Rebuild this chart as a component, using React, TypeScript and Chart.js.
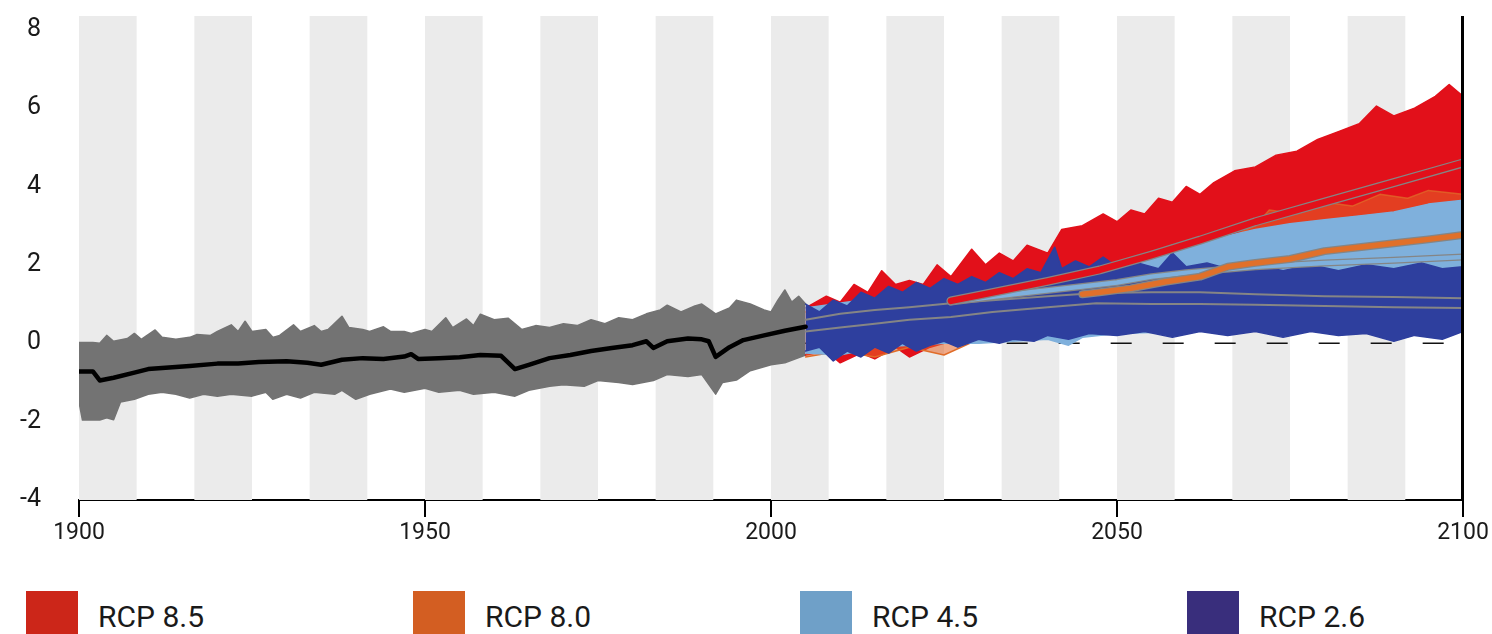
import React, { useEffect, useRef } from "react";
import { Chart, registerables } from "chart.js";

Chart.register(...registerables);

// ---------- axes / decoration ----------
const xTicks = [1900, 1950, 2000, 2050, 2100];
const yTicks = [-4, -2, 0, 2, 4, 6, 8];
const stripeStarts = [1900, 1916.67, 1933.33, 1950, 1966.67, 1983.33, 2000, 2016.67, 2033.33, 2050, 2066.67, 2083.33];
const stripeWidth = 8.33;

// ---------- legend ----------
const legendLabels = ["RCP 8.5", "RCP 8.0", "RCP 4.5", "RCP 2.6"];
const legendColors = ["#cc2619", "#d35e22", "#6fa0c8", "#392e7c"];

// ---------- zero reference ----------
const zeroYears = [2004, 2100];
const zeroValues = [0, 0];

// ---------- historical ensemble (gray) ----------
const histUpperYears = [1900, 1902, 1903, 1904, 1905, 1907, 1908, 1909, 1911, 1912, 1914, 1916, 1917, 1919, 1920, 1922, 1923, 1924, 1925, 1927, 1928, 1929, 1931, 1932, 1934, 1935, 1936, 1938, 1939, 1941, 1942, 1944, 1945, 1947, 1948, 1950, 1951, 1953, 1954, 1956, 1957, 1958, 1960, 1962, 1964, 1966, 1968, 1970, 1972, 1974, 1976, 1978, 1980, 1982, 1984, 1985, 1987, 1989, 1990, 1992, 1994, 1995, 1997, 1999, 2000, 2001, 2002, 2003, 2004, 2005];
const histUpperValues = [0.02, 0.02, 0.0, 0.2, 0.05, 0.12, 0.25, 0.1, 0.34, 0.15, 0.1, 0.15, 0.22, 0.2, 0.3, 0.47, 0.3, 0.56, 0.3, 0.35, 0.15, 0.2, 0.47, 0.3, 0.45, 0.3, 0.35, 0.69, 0.4, 0.35, 0.3, 0.42, 0.3, 0.3, 0.25, 0.35, 0.3, 0.65, 0.4, 0.62, 0.45, 0.74, 0.6, 0.64, 0.35, 0.45, 0.4, 0.5, 0.45, 0.6, 0.5, 0.65, 0.6, 0.75, 0.85, 0.97, 0.8, 0.95, 1.0, 0.75, 0.9, 1.1, 1.0, 0.85, 0.8, 1.1, 1.36, 1.05, 1.2, 1.0];
const histLowerYears = [1900, 1900.5, 1903, 1904, 1905, 1906, 1908, 1910, 1912, 1914, 1916, 1918, 1920, 1922, 1925, 1927, 1928, 1930, 1932, 1934, 1937, 1938, 1940, 1942, 1945, 1947, 1950, 1952, 1955, 1957, 1960, 1963, 1965, 1968, 1970, 1973, 1975, 1978, 1980, 1983, 1985, 1988, 1990, 1992, 1993, 1995, 1997, 2000, 2002, 2005];
const histLowerValues = [-1.5, -1.96, -1.96, -1.9, -1.95, -1.5, -1.43, -1.3, -1.25, -1.3, -1.4, -1.3, -1.35, -1.3, -1.35, -1.25, -1.43, -1.3, -1.4, -1.25, -1.3, -1.2, -1.43, -1.3, -1.17, -1.25, -1.15, -1.25, -1.2, -1.3, -1.25, -1.35, -1.2, -1.1, -1.06, -1.1, -0.95, -1.0, -1.05, -0.95, -0.8, -0.85, -0.8, -1.3, -1.0, -0.94, -0.7, -0.55, -0.5, -0.3];
const histMeanYears = [1900, 1902, 1903, 1905, 1908, 1910, 1913, 1916, 1920, 1923, 1926, 1930, 1933, 1935, 1938, 1941, 1944, 1947, 1948, 1949, 1952, 1955, 1958, 1961, 1963, 1965, 1968, 1971, 1974, 1977, 1980, 1982, 1983, 1985, 1988, 1990, 1991, 1992, 1994, 1996, 1999, 2002, 2005];
const histMeanValues = [-0.72, -0.72, -0.95, -0.88, -0.75, -0.66, -0.62, -0.58, -0.52, -0.52, -0.48, -0.46, -0.5, -0.55, -0.42, -0.38, -0.4, -0.34, -0.28, -0.4, -0.38, -0.36, -0.3, -0.32, -0.66, -0.55, -0.38, -0.3, -0.2, -0.12, -0.05, 0.05, -0.12, 0.05, 0.12, 0.1, 0.05, -0.35, -0.1, 0.08, 0.2, 0.32, 0.42];

// ---------- RCP 8.5 ensemble (red) ----------
const redUpperYears = [2005, 2008, 2010, 2012, 2014, 2016, 2018, 2020, 2022, 2024, 2026, 2029, 2031, 2033, 2035, 2037, 2040, 2042, 2045, 2048, 2050, 2052, 2054, 2056, 2058, 2060, 2062, 2064, 2067, 2070, 2073, 2076, 2079, 2082, 2085, 2087.5, 2090, 2093, 2096, 2098, 2100];
const redUpperValues = [0.9, 1.2, 1.05, 1.5, 1.3, 1.85, 1.5, 1.6, 1.5, 2.0, 1.7, 2.4, 2.0, 2.3, 2.1, 2.5, 2.3, 2.9, 3.0, 3.3, 3.1, 3.4, 3.3, 3.7, 3.6, 4.0, 3.8, 4.1, 4.4, 4.5, 4.8, 4.9, 5.2, 5.4, 5.6, 6.05, 5.8, 6.0, 6.3, 6.6, 6.3];
const redLowerYears = [2005, 2008, 2010, 2013, 2015, 2018, 2020, 2023, 2025, 2030, 2040, 2050, 2060, 2070, 2080, 2090, 2100];
const redLowerValues = [-0.3, -0.2, -0.5, -0.25, -0.4, -0.1, -0.35, -0.1, 0.0, 0.3, 0.8, 1.3, 1.8, 2.3, 2.8, 3.2, 3.5];
const redMeanYears = [2026, 2030, 2035, 2040, 2047.5, 2055, 2062, 2070, 2080, 2090, 2100];
const redMeanValues = [1.08, 1.22, 1.4, 1.58, 1.87, 2.25, 2.63, 3.1, 3.6, 4.1, 4.6];

// ---------- RCP 8.0 ensemble (orange) ----------
const orangeUpperYears = [2005, 2015, 2025, 2035, 2045, 2055, 2065, 2070, 2072, 2076, 2080, 2084, 2088, 2092, 2095, 2100];
const orangeUpperValues = [0.8, 1.0, 1.2, 1.4, 1.6, 2.0, 2.6, 3.0, 3.4, 3.3, 3.6, 3.5, 3.8, 3.7, 3.9, 3.8];
const orangeLowerYears = [2005, 2010, 2015, 2020, 2025, 2030, 2040, 2060, 2100];
const orangeLowerValues = [-0.35, -0.2, -0.35, -0.1, -0.3, 0.1, 0.4, 0.8, 1.2];
const orangeMeanYears = [2045, 2047.5, 2052, 2057, 2062, 2066, 2070, 2075, 2080, 2085, 2090, 2095, 2100];
const orangeMeanValues = [1.25, 1.3, 1.4, 1.57, 1.7, 1.95, 2.05, 2.15, 2.35, 2.45, 2.55, 2.65, 2.76];

// ---------- RCP 4.5 ensemble (light blue) ----------
const lightUpperYears = [2005, 2015, 2025, 2030, 2035, 2040, 2045, 2050, 2055, 2058, 2060, 2065, 2070, 2075, 2080, 2085, 2090, 2095, 2100];
const lightUpperValues = [0.9, 1.15, 1.35, 1.45, 1.55, 1.65, 1.75, 1.95, 2.2, 2.5, 2.45, 2.7, 2.9, 3.05, 3.15, 3.25, 3.35, 3.55, 3.65];
const lightLowerYears = [2005, 2010, 2015, 2020, 2025, 2030, 2035, 2040, 2043, 2045, 2050, 2060, 2100];
const lightLowerValues = [-0.25, -0.3, -0.1, -0.05, 0.0, 0.0, 0.05, 0.1, -0.05, 0.15, 0.25, 0.3, 0.4];
const lightMeanYears = [2026, 2035, 2045, 2050, 2055, 2060, 2070, 2080, 2090, 2100];
const lightMeanValues = [1.05, 1.25, 1.45, 1.55, 1.7, 1.8, 1.95, 2.05, 2.12, 2.2];

// ---------- RCP 2.6 ensemble (dark blue) ----------
const darkUpperYears = [2005, 2007, 2009, 2011, 2013, 2015, 2017, 2019, 2021, 2023, 2025, 2027, 2029, 2031, 2033, 2035, 2037, 2039, 2041, 2042, 2044, 2046, 2048, 2050, 2053, 2056, 2058, 2060, 2063, 2066, 2070, 2074, 2078, 2082, 2086, 2090, 2094, 2097, 2100];
const darkUpperValues = [1.0, 0.8, 1.1, 0.95, 1.3, 1.15, 1.45, 1.3, 1.55, 1.4, 1.65, 1.5, 1.7, 1.55, 1.8, 1.65, 1.9, 1.8, 2.45, 1.9, 2.1, 1.95, 2.2, 1.95, 2.05, 1.9, 2.3, 1.95, 2.05, 1.9, 2.0, 1.85, 2.0, 1.85, 2.0, 1.9, 2.05, 1.9, 1.95];
const darkLowerYears = [2005, 2007, 2009, 2011, 2013, 2015, 2017, 2019, 2021, 2023, 2025, 2027, 2030, 2033, 2035, 2038, 2040, 2043, 2046, 2050, 2054, 2058, 2062, 2066, 2070, 2074, 2078, 2082, 2086, 2090, 2093, 2097, 2100];
const darkLowerValues = [-0.2, -0.1, -0.45, -0.2, -0.35, -0.1, -0.25, 0.0, -0.2, -0.05, 0.05, -0.1, 0.1, 0.0, 0.1, 0.05, 0.2, 0.1, 0.25, 0.2, 0.3, 0.15, 0.3, 0.2, 0.3, 0.15, 0.3, 0.2, 0.25, 0.05, 0.2, 0.1, 0.3];
const meanAYears = [2005, 2010, 2015, 2020, 2026, 2032, 2040, 2047, 2055, 2062, 2070, 2080, 2090, 2100];
const meanAValues = [0.6, 0.75, 0.85, 0.92, 1.02, 1.1, 1.2, 1.28, 1.3, 1.3, 1.25, 1.2, 1.18, 1.15];
const meanBYears = [2005, 2010, 2015, 2020, 2026, 2032, 2040, 2047, 2055, 2062, 2070, 2080, 2090, 2100];
const meanBValues = [0.3, 0.4, 0.5, 0.6, 0.67, 0.8, 0.92, 1.02, 1.0, 1.0, 0.98, 0.95, 0.92, 0.9];

const pts = (xs: number[], ys: number[]) => xs.map((x, i) => ({ x, y: ys[i] }));

function line(data: any, color: string, width: number, order: number, extra: any = {}) {
  return {
    data,
    borderColor: color,
    borderWidth: width,
    pointRadius: 0,
    tension: 0,
    fill: false,
    borderJoinStyle: "round",
    borderCapStyle: "round",
    order,
    ...extra,
  };
}

const stripePlugin = {
  id: "stripes",
  beforeDatasetsDraw(chart: any) {
    const { ctx, chartArea, scales } = chart;
    ctx.save();
    ctx.fillStyle = "#ebebeb";
    stripeStarts.forEach((s) => {
      const x0 = scales.x.getPixelForValue(s);
      const x1 = scales.x.getPixelForValue(s + stripeWidth);
      ctx.fillRect(x0, chartArea.top, x1 - x0, chartArea.bottom - chartArea.top);
    });
    ctx.restore();
  },
};

const rightAxisPlugin = {
  id: "rightAxis",
  afterDatasetsDraw(chart: any) {
    const { ctx, chartArea } = chart;
    ctx.save();
    ctx.strokeStyle = "#000";
    ctx.lineWidth = 3;
    ctx.beginPath();
    ctx.moveTo(chartArea.right - 0.5, chartArea.top);
    ctx.lineTo(chartArea.right - 0.5, chartArea.bottom);
    ctx.stroke();
    ctx.restore();
  },
};

export default function App() {
  const ref = useRef<HTMLCanvasElement>(null);

  useEffect(() => {
    if (!ref.current) return;
    const gray = "#737373";
    const red = "#e2101a";
    const orange = "#e0702a";
    const light = "#7fb0dc";
    const dark = "#2e3f9e";
    const chart = new Chart(ref.current, {
      type: "line",
      data: {
        datasets: [
          line(pts(zeroYears, zeroValues), "#111", 1.6, 100, { borderDash: [21, 31], borderCapStyle: "butt" }),
          line(pts(histLowerYears, histLowerValues), gray, 1.5, 91),
          line(pts(histUpperYears, histUpperValues), gray, 1.5, 90, { fill: "-1", backgroundColor: gray }),
          line(pts(redLowerYears, redLowerValues), red, 1.5, 81),
          line(pts(redUpperYears, redUpperValues), red, 1.5, 80, { fill: "-1", backgroundColor: red }),
          line(pts(orangeLowerYears, orangeLowerValues), orange, 1.5, 71),
          line(pts(orangeUpperYears, orangeUpperValues), "rgba(224,112,42,0.7)", 1.5, 70, { fill: "-1", backgroundColor: "rgba(228,100,40,0.55)" }),
          line(pts(lightLowerYears, lightLowerValues), light, 1.5, 61),
          line(pts(lightUpperYears, lightUpperValues), light, 1.5, 60, { fill: "-1", backgroundColor: light }),
          line(pts(darkLowerYears, darkLowerValues), dark, 1.5, 51),
          line(pts(darkUpperYears, darkUpperValues), dark, 1.5, 50, { fill: "-1", backgroundColor: dark }),
          line(pts(meanAYears, meanAValues), "#858585", 2, 40),
          line(pts(meanBYears, meanBValues), "#858585", 2, 40),
          line(pts(lightMeanYears, lightMeanValues), "#858585", 7, 36),
          line(pts(lightMeanYears, lightMeanValues), light, 4.5, 35),
          line(pts(orangeMeanYears, orangeMeanValues), "#858585", 8, 34),
          line(pts(orangeMeanYears, orangeMeanValues), orange, 5.5, 33),
          line(pts(redMeanYears, redMeanValues), "#858585", 9, 32),
          line(pts(redMeanYears, redMeanValues), red, 6.5, 31),
          line(pts(histMeanYears, histMeanValues), "#000", 4.5, 10),
        ] as any,
      },
      options: {
        animation: false,
        responsive: false,
        events: [],
        layout: { padding: { top: 16, right: 29, left: 0, bottom: 0 } },
        plugins: { legend: { display: false }, tooltip: { enabled: false } },
        scales: {
          x: {
            type: "linear",
            min: 1900,
            max: 2100,
            afterBuildTicks: (s: any) => {
              s.ticks = xTicks.map((v) => ({ value: v }));
            },
            afterFit: (s: any) => {
              s.height = 60;
            },
            border: { display: true, color: "#000", width: 2 },
            grid: { display: true, drawOnChartArea: false, drawTicks: true, tickLength: 17, color: "#000", lineWidth: 2 },
            ticks: {
              padding: 2,
              color: "#1a1a1a",
              font: { family: "Roboto", size: 23 },
              maxRotation: 0,
              callback: (v: any) => String(v),
            },
          },
          y: {
            type: "linear",
            min: -4,
            max: 8.35,
            afterBuildTicks: (s: any) => {
              s.ticks = yTicks.map((v) => ({ value: v }));
            },
            afterFit: (s: any) => {
              s.width = 79;
              s.paddingTop = 0;
              s.paddingBottom = 0;
            },
            border: { display: false },
            grid: { display: false, drawTicks: false },
            ticks: {
              padding: 38,
              color: "#1a1a1a",
              font: { family: "Roboto", size: 25 },
              callback: (v: any) => String(v),
            },
          },
        },
      },
      plugins: [stripePlugin, rightAxisPlugin],
    });
    return () => chart.destroy();
  }, []);

  return (
    <div style={{ position: "fixed", left: 0, top: 0, width: 1492, height: 634, background: "#fff", overflow: "hidden" }}>
      <canvas ref={ref} width={1492} height={560} style={{ position: "absolute", left: 0, top: 0 }} />
      {legendLabels.map((label, i) => (
        <div key={label} style={{ position: "absolute", left: 26 + i * 387, top: 591, height: 43 }}>
          <div style={{ position: "absolute", left: 0, top: 0, width: 52, height: 43, background: legendColors[i] }} />
          <div
            style={{
              position: "absolute",
              left: 72,
              top: 4,
              height: 43,
              lineHeight: "43px",
              whiteSpace: "nowrap",
              fontFamily: "Roboto",
              fontSize: 30,
              color: "#1a1a1a",
            }}
          >
            {label}
          </div>
        </div>
      ))}
    </div>
  );
}
